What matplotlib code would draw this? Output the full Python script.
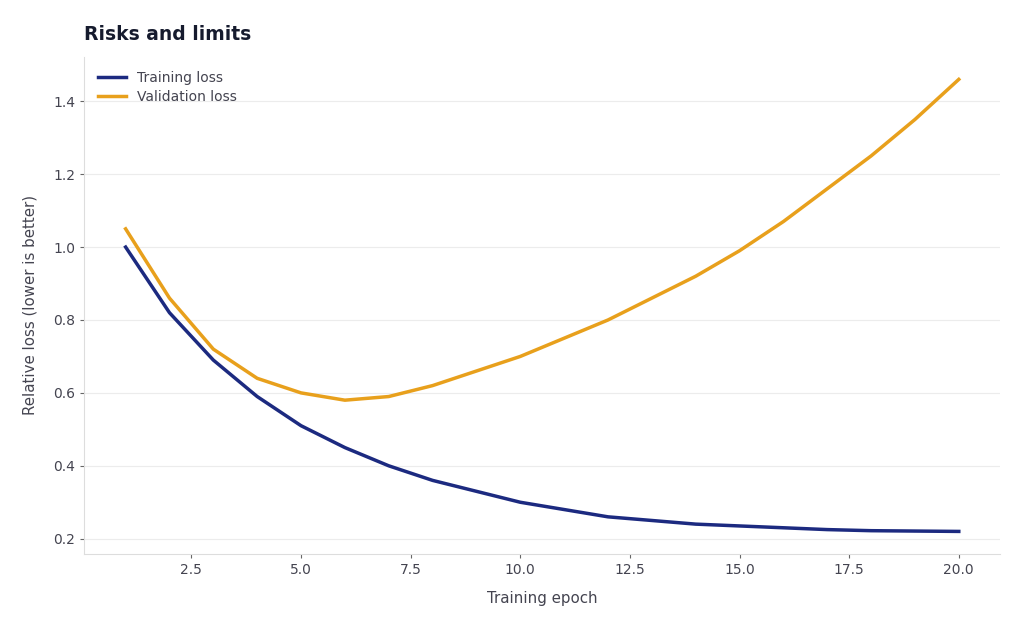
import matplotlib.pyplot as plt

epochs = list(range(1, 21))
training_loss = [1.00, 0.82, 0.69, 0.59, 0.51, 0.45, 0.40, 0.36, 0.33, 0.30,
                 0.28, 0.26, 0.25, 0.24, 0.235, 0.23, 0.225, 0.222, 0.221, 0.22]
validation_loss = [1.05, 0.86, 0.72, 0.64, 0.60, 0.58, 0.59, 0.62, 0.66, 0.70,
                   0.75, 0.80, 0.86, 0.92, 0.99, 1.07, 1.16, 1.25, 1.35, 1.46]

fig = plt.figure(figsize=(10.24, 6.31), dpi=100)
ax = fig.add_axes([0.082, 0.122, 0.895, 0.788])

ax.plot(epochs, training_loss, color="#1c2a80", lw=2.5, label="Training loss")
ax.plot(epochs, validation_loss, color="#e8a01c", lw=2.5, label="Validation loss")

ax.set_title("Risks and limits", loc="left", fontsize=13.5, fontweight="bold",
             color="#161b2e", pad=12)
ax.set_xlabel("Training epoch", fontsize=10.8, color="#444450", labelpad=10)
ax.set_ylabel("Relative loss (lower is better)", fontsize=10.8, color="#444450",
              labelpad=11)

ax.grid(axis="y", color="#ececec", lw=0.8)
ax.set_axisbelow(True)
for s in ["top", "right"]:
    ax.spines[s].set_visible(False)
for s in ["left", "bottom"]:
    ax.spines[s].set_color("#dddddd")
ax.tick_params(colors="#444450", labelsize=10)
ax.tick_params(axis="both", color="#666666", length=3)

leg = ax.legend(loc="upper left", frameon=False, fontsize=10, handlelength=2,
                borderaxespad=0.6, labelspacing=0.4)
for t in leg.get_texts():
    t.set_color("#444450")

fig.savefig("out.png", dpi=100)
